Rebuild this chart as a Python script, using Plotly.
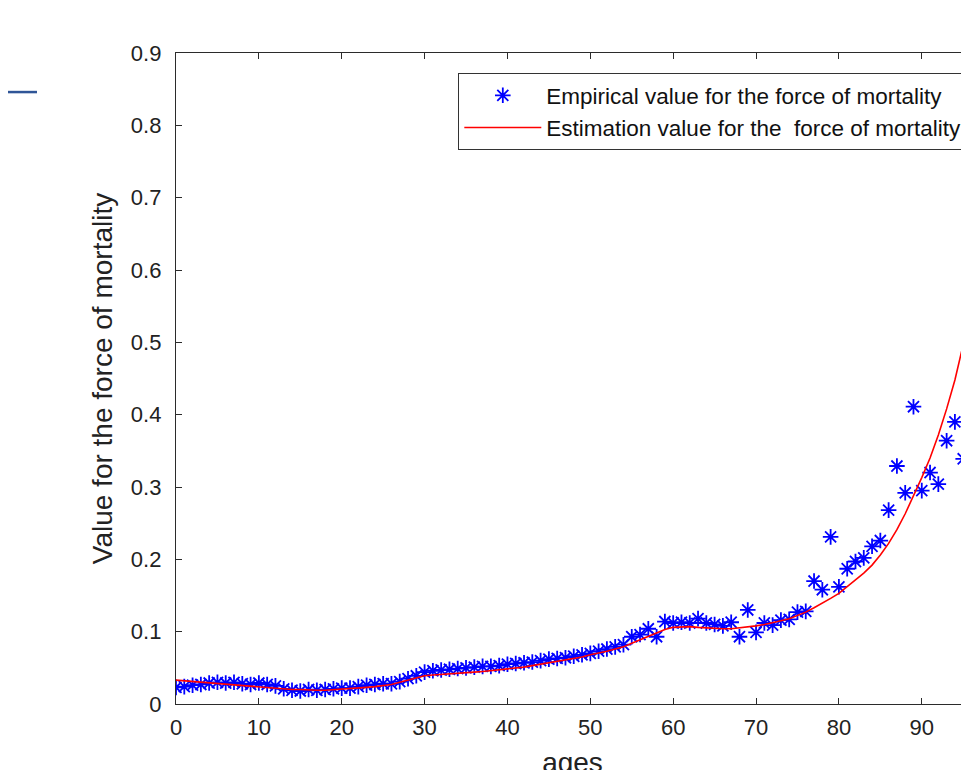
import plotly.graph_objects as go

ages = list(range(0, 97))

empirical = [
    0.023, 0.024, 0.026, 0.027, 0.029, 0.030, 0.029, 0.030, 0.028, 0.027,
    0.029, 0.027, 0.025, 0.021, 0.019, 0.018, 0.020, 0.019, 0.020, 0.021,
    0.022, 0.022, 0.024, 0.026, 0.027, 0.028, 0.028, 0.031, 0.035, 0.039,
    0.044, 0.046, 0.047, 0.048, 0.049, 0.050, 0.051, 0.052, 0.052, 0.053,
    0.055, 0.056, 0.057, 0.058, 0.060, 0.062, 0.063, 0.064, 0.066, 0.068,
    0.070, 0.073, 0.076, 0.079, 0.082, 0.093, 0.096, 0.104, 0.093, 0.114,
    0.112, 0.113, 0.112, 0.118, 0.112, 0.110, 0.108, 0.113, 0.093, 0.130,
    0.099, 0.112, 0.109, 0.116, 0.117, 0.127, 0.128, 0.170, 0.158, 0.231,
    0.162, 0.187, 0.197, 0.202, 0.218, 0.226, 0.268, 0.329, 0.292, 0.411,
    0.295, 0.320, 0.304, 0.364, 0.390, 0.339, 0.392,
]

estimation = [
    0.033, 0.032, 0.031, 0.030, 0.029, 0.028, 0.027, 0.027, 0.026, 0.025,
    0.024, 0.023, 0.022, 0.021, 0.020, 0.020, 0.019, 0.019, 0.019, 0.020,
    0.020, 0.021, 0.022, 0.023, 0.024, 0.025, 0.027, 0.030, 0.033, 0.036,
    0.039, 0.040, 0.041, 0.042, 0.043, 0.043, 0.044, 0.045, 0.046, 0.047,
    0.048, 0.050, 0.051, 0.053, 0.055, 0.057, 0.059, 0.061, 0.063, 0.065,
    0.068, 0.070, 0.073, 0.076, 0.079, 0.084, 0.089, 0.094, 0.099, 0.103,
    0.106, 0.107, 0.107, 0.106, 0.105, 0.105, 0.104, 0.104, 0.105, 0.106,
    0.108, 0.110, 0.112, 0.115, 0.118, 0.122, 0.127, 0.133, 0.139, 0.146,
    0.153, 0.162, 0.171, 0.181, 0.192, 0.206, 0.222, 0.241, 0.263, 0.287,
    0.313, 0.340, 0.372, 0.408, 0.448, 0.497, 0.555,
]

x_tickvals = [0, 10, 20, 30, 40, 50, 60, 70, 80, 90]
x_ticktext = ["0", "10", "20", "30", "40", "50", "60", "70", "80", "90"]
y_tickvals = [0, 0.1, 0.2, 0.3, 0.4, 0.5, 0.6, 0.7, 0.8, 0.9]
y_ticktext = ["0", "0.1", "0.2", "0.3", "0.4", "0.5", "0.6", "0.7", "0.8", "0.9"]

FONT = "Liberation Sans, Arial, sans-serif"
AXC = "#2b2b2b"

fig = go.Figure()
fig.add_trace(go.Scatter(
    x=ages, y=empirical, mode="markers",
    name="Empirical value for the force of mortality",
    marker=dict(symbol="asterisk-open", size=13, color="#0000ff",
                line=dict(color="#0000ff", width=1.8)),
))
fig.add_trace(go.Scatter(
    x=ages, y=estimation, mode="lines",
    name="Estimation value for the  force of mortality",
    line=dict(color="#ff0000", width=1.6),
))

fig.update_layout(
    width=961, height=770,
    margin=dict(l=168, r=0, t=45, b=74),
    paper_bgcolor="white", plot_bgcolor="white",
    font=dict(family=FONT, color="#222222"),
    showlegend=True,
    legend=dict(
        x=0.356, y=0.969, xanchor="left", yanchor="top",
        bgcolor="white", bordercolor="#333333", borderwidth=1,
        font=dict(family=FONT, size=22.5, color="#111111"),
        itemwidth=77, tracegroupgap=0,
    ),
    xaxis=dict(
        range=[0, 95.7], tickvals=x_tickvals, ticktext=x_ticktext,
        ticks="inside", ticklen=6, tickcolor=AXC, tickwidth=1,
        showline=True, linecolor=AXC, linewidth=1.3, mirror="ticks",
        showgrid=False, zeroline=False, automargin=False,
        tickfont=dict(family=FONT, size=22, color="#222222"),
        ticklabelstandoff=3,
        title=dict(text="ages", font=dict(family=FONT, size=28, color="#222222"),
                   standoff=42),
    ),
    yaxis=dict(
        range=[0, 0.9], tickvals=y_tickvals, ticktext=y_ticktext,
        ticks="inside", ticklen=6, tickcolor=AXC, tickwidth=1,
        showline=True, linecolor=AXC, linewidth=1.3, mirror=False,
        showgrid=False, zeroline=False, automargin=False,
        tickfont=dict(family=FONT, size=22, color="#222222"),
        ticklabelstandoff=9,
        title=dict(text="Value for the force of mortality",
                   font=dict(family=FONT, size=28, color="#222222"),
                   standoff=10),
    ),
    shapes=[dict(type="line", xref="paper", yref="paper",
                 x0=-0.2119, x1=-0.1753, y0=0.940, y1=0.940,
                 line=dict(color="#2f5597", width=2.5))],
)

fig.write_html("out.html")
